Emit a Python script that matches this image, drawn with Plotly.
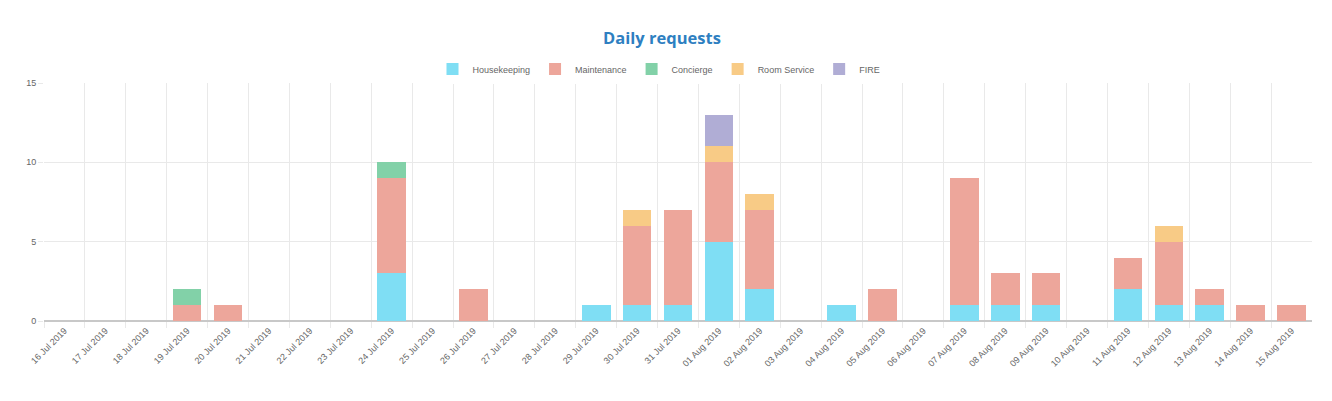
import plotly.graph_objects as go

dates = ["2019-07-16", "2019-07-17", "2019-07-18", "2019-07-19", "2019-07-20", "2019-07-21",
         "2019-07-22", "2019-07-23", "2019-07-24", "2019-07-25", "2019-07-26", "2019-07-27",
         "2019-07-28", "2019-07-29", "2019-07-30", "2019-07-31", "2019-08-01", "2019-08-02",
         "2019-08-03", "2019-08-04", "2019-08-05", "2019-08-06", "2019-08-07", "2019-08-08",
         "2019-08-09", "2019-08-10", "2019-08-11", "2019-08-12", "2019-08-13", "2019-08-14",
         "2019-08-15"]

housekeeping = [0, 0, 0, 0, 0, 0, 0, 0, 3, 0, 0, 0, 0, 1, 1, 1, 5, 2, 0, 1, 0, 0, 1, 1, 1, 0, 2, 1, 1, 0, 0]
maintenance  = [0, 0, 0, 1, 1, 0, 0, 0, 6, 0, 2, 0, 0, 0, 5, 6, 5, 5, 0, 0, 2, 0, 8, 2, 2, 0, 2, 4, 1, 1, 1]
concierge    = [0, 0, 0, 1, 0, 0, 0, 0, 1, 0, 0, 0, 0, 0, 0, 0, 0, 0, 0, 0, 0, 0, 0, 0, 0, 0, 0, 0, 0, 0, 0]
room_service = [0, 0, 0, 0, 0, 0, 0, 0, 0, 0, 0, 0, 0, 0, 1, 0, 1, 1, 0, 0, 0, 0, 0, 0, 0, 0, 0, 1, 0, 0, 0]
fire         = [0, 0, 0, 0, 0, 0, 0, 0, 0, 0, 0, 0, 0, 0, 0, 0, 2, 0, 0, 0, 0, 0, 0, 0, 0, 0, 0, 0, 0, 0, 0]

series = [
    ("Housekeeping", housekeeping, "#7fdef4"),
    ("Maintenance", maintenance, "#eda69b"),
    ("Concierge", concierge, "#82d1a8"),
    ("Room Service", room_service, "#f8cb86"),
    ("FIRE", fire, "#b0add5"),
]

fig = go.Figure()
for name, vals, color in series:
    fig.add_trace(go.Bar(
        x=dates, y=vals, name=name,
        marker=dict(color=color, line=dict(width=0)),
        xperiod=86400000, xperiodalignment="middle",
    ))

# page has an 8px body margin; figure sized to fit the 1332x401 window
W, H = 1316, 385
fig.update_layout(
    barmode="stack",
    bargap=0.3,
    width=W, height=H,
    margin=dict(l=36, r=12, t=75, b=72, autoexpand=False),
    paper_bgcolor="white",
    plot_bgcolor="white",
    font=dict(family="Liberation Sans, Arial, sans-serif", size=9, color="#666666"),
    title=dict(text="<b>Daily requests</b>", x=654 / W, xref="container", xanchor="center",
               y=1 - 30 / H, yref="container", yanchor="middle",
               font=dict(family="Open Sans, sans-serif", size=16.5, color="#2e7fc1")),
    legend=dict(orientation="h", xref="container", x=651 / W, xanchor="center",
                yref="container", y=1 - 61 / H, yanchor="middle",
                traceorder="normal",
                font=dict(size=9, color="#666666"), itemwidth=30),
    showlegend=True,
)

noon_ticks = [d + " 12:00" for d in dates]

fig.update_xaxes(
    type="date",
    range=["2019-07-16", "2019-08-16"],
    tickvals=noon_ticks,
    tickformat="%d %b %Y",
    tickangle=-45,
    automargin=False,
    showgrid=False,
    ticks="",
    minor=dict(tickvals=dates, showgrid=True, gridcolor="#e9e9e9", gridwidth=1,
               ticks="outside", ticklen=6, tickcolor="#e9e9e9"),
    showline=True, linecolor="#c8c8c8", linewidth=1,
    tickfont=dict(size=9, color="#666666"),
)
fig.update_yaxes(
    range=[0, 15], dtick=5,
    automargin=False,
    showgrid=True, gridcolor="#e9e9e9", gridwidth=1,
    zeroline=True, zerolinecolor="#c8c8c8",
    ticks="outside", ticklen=5, tickcolor="#e9e9e9",
    tickfont=dict(size=9, color="#666666"),
)

fig.write_html("out.html")
